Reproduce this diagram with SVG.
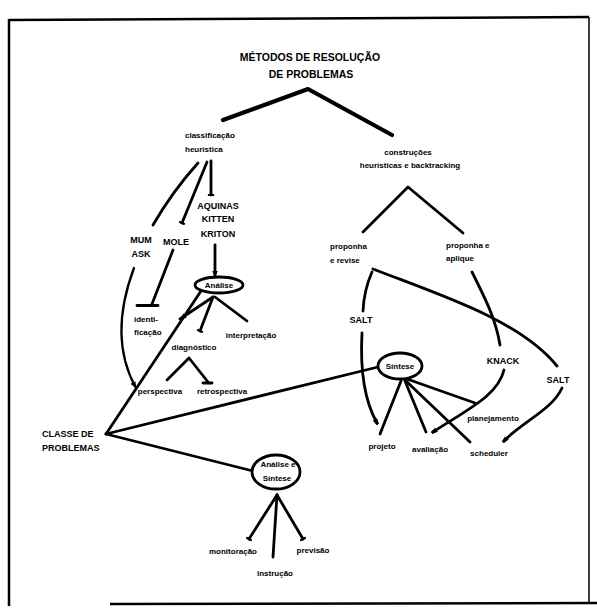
<svg xmlns="http://www.w3.org/2000/svg" width="597" height="608" viewBox="0 0 597 608">
<defs>
<style>
text{font-family:"Liberation Sans",Arial,sans-serif;font-weight:bold;fill:#000}
.t{font-size:10.5px}
.c{font-size:9px}
.s{font-size:8px}
.m{text-anchor:middle}
.ln{fill:none;stroke:#000;stroke-width:2.8;stroke-linecap:round;stroke-linejoin:round}
.th{stroke-width:4.2}
.cv{stroke-width:2.3}
.el{fill:#fff;stroke:#000;stroke-width:2.8}
.fr{fill:none;stroke:#000;stroke-width:2.5}
</style>
<marker id="arr" viewBox="0 0 10 10" refX="9" refY="5" markerWidth="7" markerHeight="7" markerUnits="userSpaceOnUse" orient="auto"><path d="M0,1 L10,5 L0,9 z"/></marker>
<marker id="bar" viewBox="0 0 4 10" refX="2" refY="5" markerWidth="2.5" markerHeight="9" markerUnits="userSpaceOnUse" orient="auto"><rect x="0" y="0" width="4" height="10"/></marker>
<marker id="blob" viewBox="0 0 10 10" refX="7" refY="5" markerWidth="6" markerHeight="6" markerUnits="userSpaceOnUse" orient="auto"><path d="M0,1 L10,3 L10,7 L0,9 z"/></marker>
</defs>
<g id="frame">
<line class="fr" x1="9" y1="20" x2="589" y2="17"/>
<line class="fr" x1="9" y1="19" x2="9" y2="606"/>
<line class="fr" x1="110" y1="604" x2="597" y2="603"/>
<line class="fr" style="stroke-width:1.5" x1="589" y1="17" x2="589" y2="604"/>
</g>
<g id="connectors">
<polyline class="ln th" points="223,120 308,89 392,135"/>
<path class="ln" d="M198,163 Q172,192 153,225"/>
<path class="ln" d="M207,162 L182,223" marker-end="url(#bar)"/>
<path class="ln" d="M211,161 L211,195" marker-end="url(#bar)"/>
<path class="ln" d="M215,245 L215,277" marker-end="url(#arr)"/>
<path class="ln" d="M173,250 L152,304"/>
<line class="ln" x1="137" y1="305.5" x2="158" y2="305.5"/>
<path class="ln cv" d="M134,268 C122,300 112,345 136,388" marker-end="url(#arr)"/>
<path class="ln" d="M213,297 L180,319" marker-end="url(#arr)"/>
<path class="ln" d="M213,297 L200,331" marker-end="url(#bar)"/>
<path class="ln" d="M215,297 L247,321"/>
<polyline class="ln" points="167,380 189,358 208,382"/>
<line class="ln" x1="203" y1="383" x2="212" y2="383"/>
<path class="ln" d="M106,434 L201,291"/>
<path class="ln" d="M106,434 L378,367"/>
<path class="ln" d="M106,434 L253,471"/>
<path class="ln" d="M277,495 L249,539" marker-end="url(#bar)"/>
<path class="ln" d="M277,495 L273,557"/>
<path class="ln" d="M277,495 L303,539" marker-end="url(#bar)"/>
<polyline class="ln" points="363,232 408,187 463,233"/>
<path class="ln" d="M372,272 Q364,290 363,311"/>
<path class="ln" d="M362,333 C360,370 364,400 377,423" marker-end="url(#blob)"/>
<path class="ln" d="M373,269 C440,295 520,320 557,366"/>
<path class="ln" d="M562,388 C552,410 522,422 504,441" marker-end="url(#blob)"/>
<path class="ln" d="M472,272 C486,300 496,320 500,345"/>
<path class="ln" d="M504,370 C498,395 470,408 433,432" marker-end="url(#blob)"/>
<path class="ln" d="M401,381 L380,434"/>
<path class="ln" d="M405,381 L426,432"/>
<path class="ln" d="M406,381 L470,442"/>
<path class="ln" d="M407,379 L475,403"/>
</g>
<g id="title"><text class="t m" x="310" y="61">MÉTODOS DE RESOLUÇÃO</text><text class="t m" x="311" y="78">DE PROBLEMAS</text></g>
<g id="classificacao"><text class="s" x="185" y="138">classificação</text><text class="s" x="185" y="152">heurística</text></g>
<g id="construcoes"><text class="s m" x="408" y="155">construções</text><text class="s m" x="410" y="168">heurísticas e backtracking</text></g>
<g id="mumask"><text class="c m" x="141" y="243">MUM</text><text class="c m" x="141" y="257">ASK</text></g>
<g id="mole"><text class="c m" x="176" y="245">MOLE</text></g>
<g id="aquinas"><text class="c m" x="218" y="209">AQUINAS</text><text class="c m" x="218" y="222">KITTEN</text><text class="c m" x="218" y="237">KRITON</text></g>
<g id="analise"><ellipse class="el" cx="219" cy="285" rx="24" ry="8"/><text class="s m" x="219" y="288">Análise</text></g>
<g id="identificacao"><text class="s" x="134" y="322">identi-</text><text class="s" x="134" y="335">ficação</text></g>
<g id="interpretacao"><text class="s m" x="251" y="338">interpretação</text></g>
<g id="diagnostico"><text class="s m" x="194" y="350">diagnóstico</text></g>
<g id="perspectiva"><text class="s m" x="160" y="394">perspectiva</text></g>
<g id="retrospectiva"><text class="s m" x="222" y="394">retrospectiva</text></g>
<g id="classe"><text class="c" x="42" y="437">CLASSE DE</text><text class="c" x="42" y="451">PROBLEMAS</text></g>
<g id="analise-sintese"><ellipse class="el" cx="276" cy="472" rx="24" ry="17"/><text class="s m" x="278" y="467">Análise e</text><text class="s m" x="277" y="481">Síntese</text></g>
<g id="monitoracao"><text class="s m" x="233" y="554">monitoração</text></g>
<g id="instrucao"><text class="s m" x="275" y="576">instrução</text></g>
<g id="previsao"><text class="s m" x="313" y="553">previsão</text></g>
<g id="proponha-revise"><text class="s" x="330" y="249">proponha</text><text class="s" x="330" y="263">e revise</text></g>
<g id="proponha-aplique"><text class="s" x="446" y="248">proponha e</text><text class="s" x="446" y="261">aplique</text></g>
<g id="salt1"><text class="c m" x="361" y="323">SALT</text></g>
<g id="sintese"><ellipse class="el" cx="400" cy="366" rx="22" ry="13"/><text class="s m" x="400" y="369">Síntese</text></g>
<g id="knack"><text class="c m" x="503" y="364">KNACK</text></g>
<g id="salt2"><text class="c m" x="558" y="383">SALT</text></g>
<g id="planejamento"><text class="s m" x="493" y="421">planejamento</text></g>
<g id="projeto"><text class="s m" x="382" y="449">projeto</text></g>
<g id="avaliacao"><text class="s m" x="430" y="452">avaliação</text></g>
<g id="scheduler"><text class="s m" x="489" y="456">scheduler</text></g>
</svg>
